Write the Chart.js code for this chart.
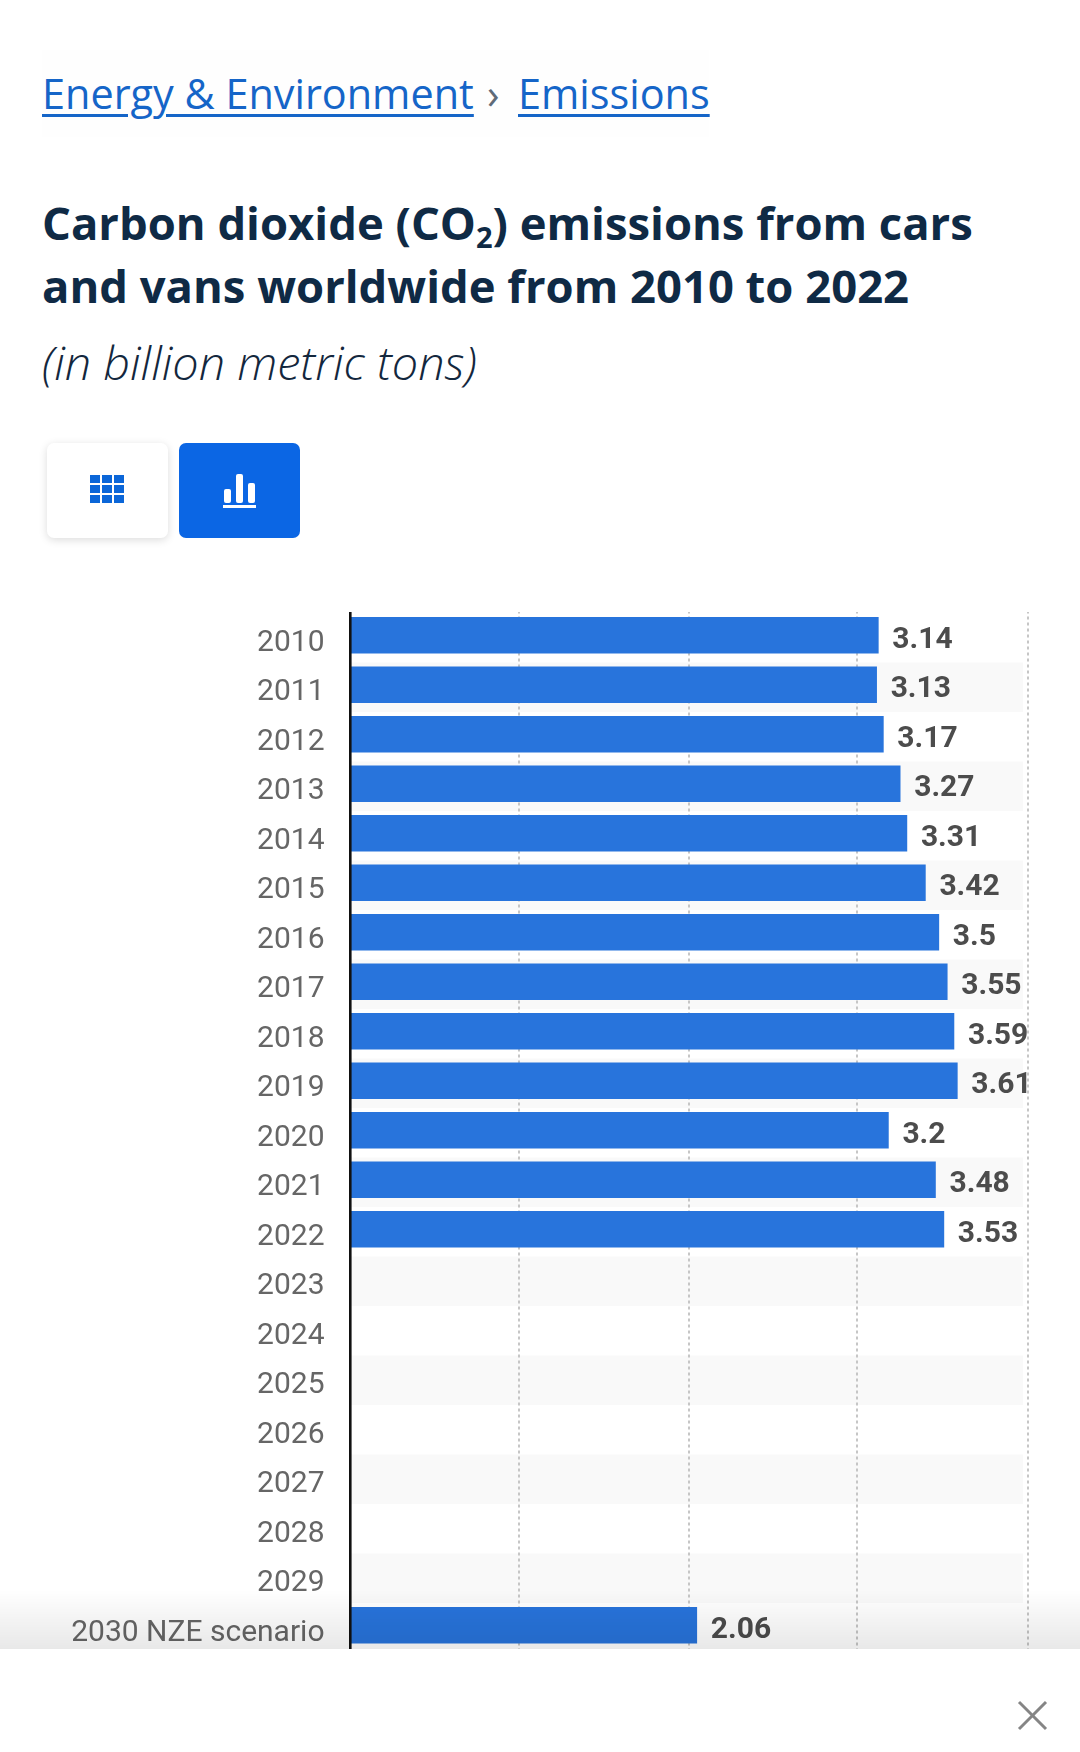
<!DOCTYPE html>
<html>
<head>
<meta charset="utf-8">
<title>CO2 emissions from cars and vans</title>
<script src="https://cdn.jsdelivr.net/npm/chart.js@4/dist/chart.umd.min.js"></script>
<style>
    html, body { margin: 0; padding: 0; background: #fff; }
    body { position: relative; width: 1080px; height: 1752px; overflow: hidden; font-family: "Open Sans", sans-serif; }
    .abs { position: absolute; white-space: nowrap; }
    .crumbs { left: 42px; top: 50px; height: 87px; width: 667px; background: #fefefe; }
    .crumb { font-size: 41.4px; line-height: 56px; color: #1565c8; text-decoration: underline; text-decoration-thickness: 3px; text-underline-offset: 5px; }
    .chev { font-size: 41.4px; line-height: 56px; color: #5f6b78; }
    .title { left: 42px; font-size: 45.4px; line-height: 63px; font-weight: 700; color: #0f2a45; }
    .title sub { font-size: 29px; line-height: 0; vertical-align: -8px; }
    .sub { left: 42px; top: 332px; font-size: 46.8px; line-height: 60px; font-style: italic; font-weight: 300; color: #13273d; }
    .btn { top: 443px; width: 121px; height: 95px; border-radius: 7px; display: flex; align-items: center; justify-content: center; }
    .btn.off { left: 47px; background: #fff; box-shadow: 0 2px 8px rgba(0,0,0,.14); }
    .btn.on { left: 179px; background: #0b66e4; }
    #chartWrap { position: absolute; left: 0; top: 612px; width: 1080px; height: 1037px; overflow: hidden; }
    #co2Chart { position: absolute; left: 0; top: -12px; }
    .fade { left: 0; top: 1590px; width: 1080px; height: 59px; background: linear-gradient(to bottom, rgba(0,0,0,0), rgba(0,0,0,.09)); }
    .panel { left: 0; top: 1649px; width: 1080px; height: 103px; background: #fff; }
</style>
</head>
<body>
<div class="abs crumbs"></div>
<div class="abs crumb" style="left:42px;top:65px">Energy &amp; Environment</div>
<div class="abs chev" style="left:487px;top:65px">›</div>
<div class="abs crumb" style="left:518px;top:65px">Emissions</div>
<div class="abs title" style="top:191px">Carbon dioxide (CO<sub>2</sub>) emissions from cars</div>
<div class="abs title" style="top:254px">and vans worldwide from 2010 to 2022</div>
<div class="abs sub">(in billion metric tons)</div>

<div class="abs btn off">
    <svg style="margin:-3px 2px 0 0" width="34" height="28" viewBox="0 0 34 28" fill="#0b66d8">
        <rect x="0" y="0" width="10" height="8"/><rect x="12" y="0" width="10" height="8"/><rect x="24" y="0" width="10" height="8"/>
        <rect x="0" y="10" width="10" height="8"/><rect x="12" y="10" width="10" height="8"/><rect x="24" y="10" width="10" height="8"/>
        <rect x="0" y="20" width="10" height="8"/><rect x="12" y="20" width="10" height="8"/><rect x="24" y="20" width="10" height="8"/>
    </svg>
</div>
<div class="abs btn on">
    <svg width="34" height="34" viewBox="0 0 34 34" fill="#fff">
        <rect x="1" y="15" width="7" height="14" rx="2"/><rect x="13" y="0" width="7" height="29" rx="2"/><rect x="25" y="9" width="7" height="20" rx="2"/>
        <rect x="0" y="31" width="33" height="3"/>
    </svg>
</div>

<div id="chartWrap"><canvas id="co2Chart" width="1080" height="1050"></canvas></div>
<div class="abs fade"></div>
<div class="abs panel"></div>
<svg class="abs" style="left:1017px;top:1700px" width="31" height="31" viewBox="0 0 31 31" stroke="#858585" stroke-width="3" fill="none">
    <line x1="2" y1="2" x2="29" y2="29"/><line x1="29" y1="2" x2="2" y2="29"/>
</svg>

<script>
    var years = ['2010', '2011', '2012', '2013', '2014', '2015', '2016', '2017', '2018', '2019', '2020',
        '2021', '2022', '2023', '2024', '2025', '2026', '2027', '2028', '2029', '2030 NZE scenario'];
    var emissions = [3.14, 3.13, 3.17, 3.27, 3.31, 3.42, 3.5, 3.55, 3.59, 3.61, 3.2,
        3.48, 3.53, null, null, null, null, null, null, null, 2.06];
    // dotted lines sit slightly off the round values in the picture
    var gridValues = [1.003, 2.016, 3.015, 4.03];

    // alternate row shading, sits a little below the bar centre
    var stripes = {
        id: 'stripes',
        beforeDraw: function (chart) {
            var ctx = chart.ctx;
            var y = chart.scales.y;
            var band = y.getPixelForValue(1) - y.getPixelForValue(0);
            ctx.save();
            ctx.fillStyle = '#f9f9f9';
            years.forEach(function (label, i) {
                if (i % 2 === 1) {
                    ctx.fillRect(chart.chartArea.left, y.getPixelForValue(i) - band / 2 + 2.5, 1023 - chart.chartArea.left, band);
                }
            });
            ctx.restore();
        }
    };

    var valueLabels = {
        id: 'valueLabels',
        afterDatasetsDraw: function (chart) {
            var ctx = chart.ctx;
            var bars = chart.getDatasetMeta(0).data;
            ctx.save();
            ctx.font = '700 30px Roboto';
            ctx.fillStyle = '#4c4c4c';
            ctx.textAlign = 'left';
            ctx.textBaseline = 'middle';
            emissions.forEach(function (v, i) {
                if (v !== null) {
                    ctx.fillText(String(v), bars[i].x + 14, bars[i].y + 5);
                }
            });
            ctx.restore();
        }
    };

    new Chart(document.getElementById('co2Chart'), {
        type: 'bar',
        data: {
            labels: years,
            datasets: [{
                data: emissions,
                backgroundColor: '#2874dc',
                barThickness: 36,
                borderWidth: 0
            }]
        },
        options: {
            indexAxis: 'y',
            responsive: false,
            animation: false,
            layout: { padding: { top: 10.5, right: 42, bottom: 0, left: 0 } },
            plugins: { legend: { display: false }, tooltip: { enabled: false } },
            scales: {
                x: {
                    min: 0,
                    max: 4.09,
                    afterBuildTicks: function (scale) {
                        scale.ticks = gridValues.map(function (v) { return { value: v }; });
                    },
                    ticks: { display: false },
                    border: { display: false, dash: [3, 3] },
                    grid: { color: '#c6c6c6', lineWidth: 2, drawTicks: false }
                },
                y: {
                    afterFit: function (scale) {
                        scale.width = 350.5;
                        // tick padding would otherwise eat into the plot height
                        scale.paddingTop = 0;
                        scale.paddingBottom = 0;
                    },
                    border: { color: '#111111', width: 2.6, z: 1 },
                    grid: { display: false, drawTicks: false },
                    ticks: {
                        autoSkip: false,
                        padding: 26,
                        labelOffset: 8,
                        color: '#666666',
                        font: { family: 'Roboto', size: 30 }
                    }
                }
            }
        },
        plugins: [stripes, valueLabels]
    });
</script>
</body>
</html>
